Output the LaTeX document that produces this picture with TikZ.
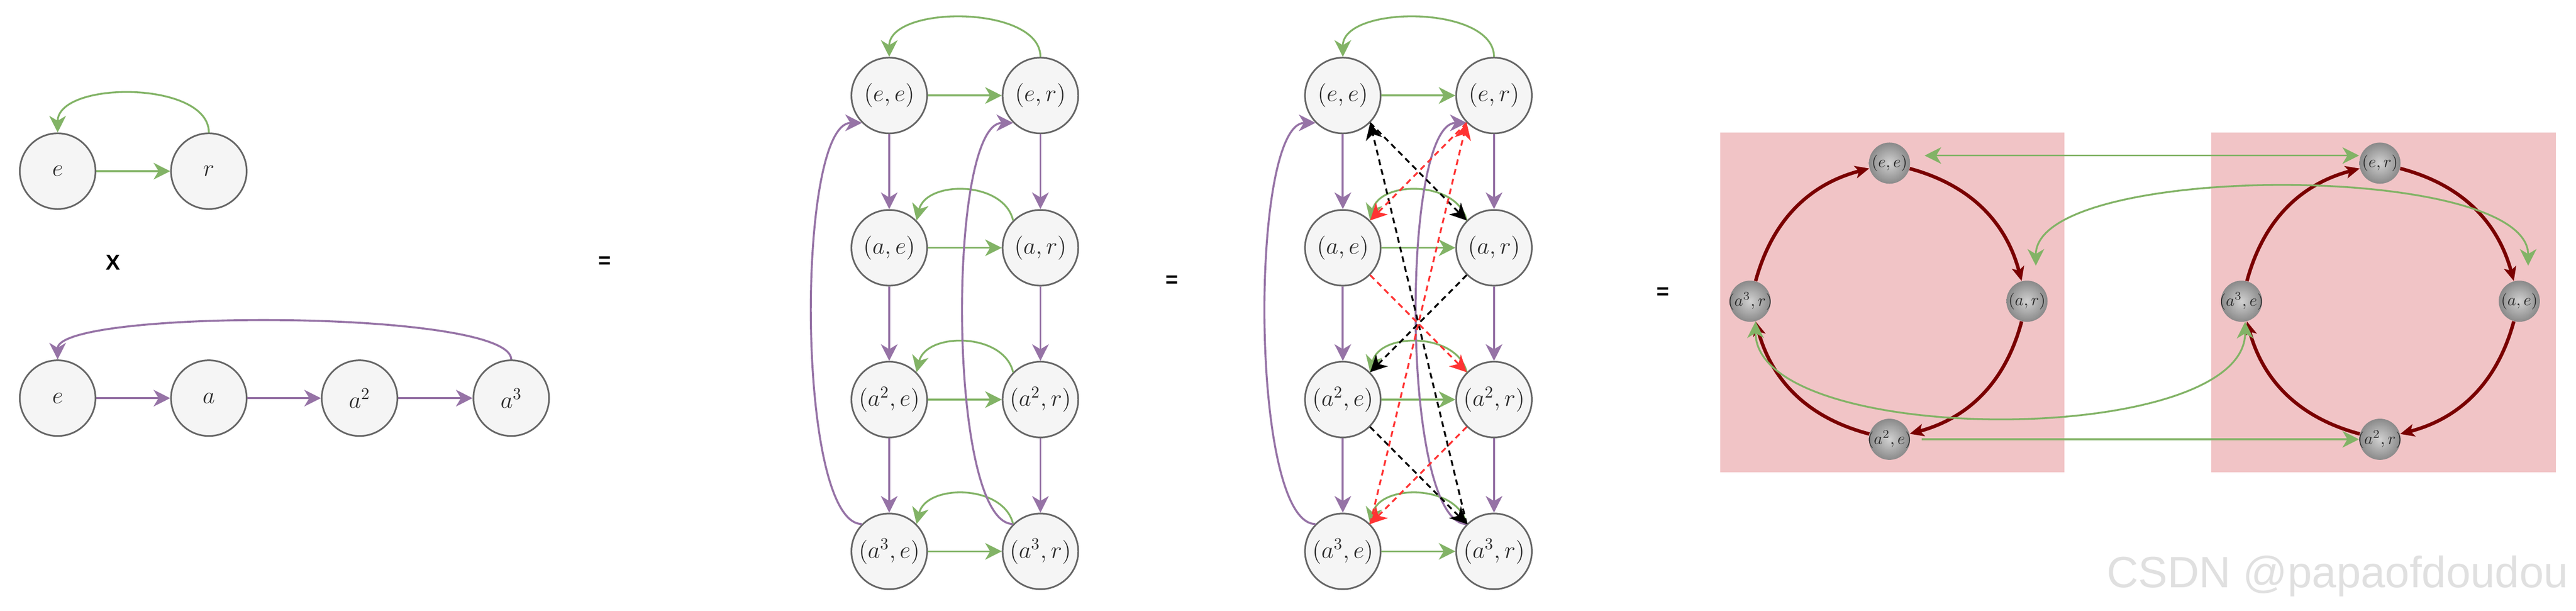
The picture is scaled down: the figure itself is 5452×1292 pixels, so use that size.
\documentclass[tikz,border=0pt]{standalone}
\usepackage{fontspec}
\newfontfamily\sanslabel{Liberation Sans}
\usetikzlibrary{arrows.meta}
\definecolor{greenedge}{HTML}{82B366}
\definecolor{purpleedge}{HTML}{9673A6}
\definecolor{nodefill}{HTML}{F5F5F5}
\definecolor{nodeline}{HTML}{666666}
\definecolor{textgray}{HTML}{2B2B2B}
\definecolor{cosetpink}{HTML}{F1C4C6}
\definecolor{cycred}{HTML}{7A0000}
\definecolor{dashred}{HTML}{FF3333}
\begin{document}
\begin{tikzpicture}[x=0.01cm,y=-0.01cm,
 vertex/.style={circle,draw=nodeline,line width=1pt,fill=nodefill,minimum size=1.6cm,inner sep=0pt,text=textgray,font=\fontsize{14.4}{17}\selectfont},
 ball/.style={circle,shading=radial,inner color=black!18,outer color=black!46,minimum size=0.87cm,inner sep=0pt,text=textgray,font=\fontsize{10}{12}\selectfont},
 opsign/.style={font=\sanslabel\bfseries\fontsize{13}{15}\selectfont},
 redge/.style={draw=greenedge,line width=1.1pt,-{Stealth[length=10pt,width=10pt,inset=3pt]}},
 rbothedge/.style={draw=greenedge,line width=1.1pt,{Stealth[length=10pt,width=10pt,inset=3pt]}-{Stealth[length=10pt,width=10pt,inset=3pt]}},
 aedge/.style={draw=purpleedge,line width=1.2pt,-{Stealth[length=10pt,width=10pt,inset=3pt]}},
 blackdash/.style={draw=black,line width=1.1pt,dash pattern=on 3.5pt off 2.5pt,-{Stealth[length=10pt,width=10pt,inset=3pt]}},
 reddash/.style={blackdash,draw=dashred},
 cycedge/.style={draw=cycred,line width=2.1pt,-{Stealth[length=8.5pt,width=7.5pt,inset=2pt]}}]
 \useasboundingbox (0,0) rectangle (5452,1292);
 % the two factors
 \node[vertex] (re) at (122,362) {$e$};
 \node[vertex] (rr) at (442,362) {$r$};
 \draw[redge] (re) -- (rr);
 \draw[redge] (rr.north) .. controls +(0,-110) and +(0,-110) .. (re.north);
 \node[opsign] (times) at (239,555) {X};
 \node[vertex] (ce) at (122,842) {$e$};
 \node[vertex] (ca) at (442,842) {$a$};
 \node[vertex] (ca2) at (761,842) {$a^2$};
 \node[vertex] (ca3) at (1082,842) {$a^3$};
 \draw[aedge] (ce) -- (ca);
 \draw[aedge] (ca) -- (ca2);
 \draw[aedge] (ca2) -- (ca3);
 \draw[aedge] (ca3.north) .. controls +(0,-107) and +(0,-107) .. (ce.north);
 \node[opsign] (eqa) at (1280,555) {=};
 % product graph
 \node[vertex] (mee) at (1882,202) {$(e,e)$};
 \node[vertex] (mer) at (2202,202) {$(e,r)$};
 \node[vertex] (mae) at (1882,524) {$(a,e)$};
 \node[vertex] (mar) at (2202,524) {$(a,r)$};
 \node[vertex] (ma2e) at (1882,845) {$(a^2,e)$};
 \node[vertex] (ma2r) at (2202,845) {$(a^2,r)$};
 \node[vertex] (ma3e) at (1882,1166) {$(a^3,e)$};
 \node[vertex] (ma3r) at (2202,1166) {$(a^3,r)$};
 \draw[redge] (mee) -- (mer);
 \draw[redge] (mae) -- (mar);
 \draw[redge] (ma2e) -- (ma2r);
 \draw[redge] (ma3e) -- (ma3r);
 \draw[redge] (mer.north) .. controls +(0,-110) and +(0,-110) .. (mee.north);
 \draw[redge] (mar.north west) .. controls +(-20,-85) and +(20,-85) .. (mae.north east);
 \draw[redge] (ma2r.north west) .. controls +(-20,-85) and +(20,-85) .. (ma2e.north east);
 \draw[redge] (ma3r.north west) .. controls +(-20,-85) and +(20,-85) .. (ma3e.north east);
 \draw[aedge] (mee) -- (mae);
 \draw[aedge] (mae) -- (ma2e);
 \draw[aedge] (ma2e) -- (ma3e);
 \draw[aedge] (mer) -- (mar);
 \draw[aedge] (mar) -- (ma2r);
 \draw[aedge] (ma2r) -- (ma3r);
 \draw[aedge] (ma3e.north west) .. controls +(-140,0) and +(-140,0) .. (mee.south west);
 \draw[aedge] (ma3r.north west) .. controls +(-140,0) and +(-140,0) .. (mer.south west);
 \node[opsign] (eqb) at (2480,595) {=};
 % product graph with the (a,r) cycles
 \node[vertex] (dee) at (2842,202) {$(e,e)$};
 \node[vertex] (der) at (3162,202) {$(e,r)$};
 \node[vertex] (dae) at (2842,524) {$(a,e)$};
 \node[vertex] (dar) at (3162,524) {$(a,r)$};
 \node[vertex] (da2e) at (2842,845) {$(a^2,e)$};
 \node[vertex] (da2r) at (3162,845) {$(a^2,r)$};
 \node[vertex] (da3e) at (2842,1166) {$(a^3,e)$};
 \node[vertex] (da3r) at (3162,1166) {$(a^3,r)$};
 \draw[redge] (dee) -- (der);
 \draw[redge] (dae) -- (dar);
 \draw[redge] (da2e) -- (da2r);
 \draw[redge] (da3e) -- (da3r);
 \draw[redge] (der.north) .. controls +(0,-110) and +(0,-110) .. (dee.north);
 \draw[redge] (dar.north west) .. controls +(-20,-85) and +(20,-85) .. (dae.north east);
 \draw[redge] (da2r.north west) .. controls +(-20,-85) and +(20,-85) .. (da2e.north east);
 \draw[redge] (da3r.north west) .. controls +(-20,-85) and +(20,-85) .. (da3e.north east);
 \draw[aedge] (dee) -- (dae);
 \draw[aedge] (dae) -- (da2e);
 \draw[aedge] (da2e) -- (da3e);
 \draw[aedge] (der) -- (dar);
 \draw[aedge] (dar) -- (da2r);
 \draw[aedge] (da2r) -- (da3r);
 \draw[aedge] (da3e.north west) .. controls +(-140,0) and +(-140,0) .. (dee.south west);
 \draw[aedge] (da3r.north west) .. controls +(-140,0) and +(-140,0) .. (der.south west);
 \draw[blackdash] (dee.south east) -- (dar.north west);
 \draw[blackdash] (dar.south west) -- (da2e.north east);
 \draw[blackdash] (da2e.south east) -- (da3r.north west);
 \draw[blackdash] (da3r.north west) -- (dee.south east);
 \draw[reddash] (der.south west) -- (dae.north east);
 \draw[reddash] (dae.south east) -- (da2r.north west);
 \draw[reddash] (da2r.south west) -- (da3e.north east);
 \draw[reddash] (da3e.north east) -- (der.south west);
 \node[opsign] (eqc) at (3520,620) {=};
 % the two cosets as cycles
 \fill[cosetpink] (3641,280) rectangle (4369,999);
 \fill[cosetpink] (4680,280) rectangle (5409,999);
 \node[ball] (bee) at (3999,345) {\makebox[0pt]{$(e,e)$}};
 \node[ball] (bar) at (4290,637) {\makebox[0pt]{$(a,r)$}};
 \node[ball] (ba2e) at (3999,929) {\makebox[0pt]{$(a^2,e)$}};
 \node[ball] (ba3r) at (3704,637) {\makebox[0pt]{$(a^3,r)$}};
 \node[ball] (ber) at (5037,345) {\makebox[0pt]{$(e,r)$}};
 \node[ball] (bae) at (5332,637) {\makebox[0pt]{$(a,e)$}};
 \node[ball] (ba2r) at (5037,929) {\makebox[0pt]{$(a^2,r)$}};
 \node[ball] (ba3e) at (4744,637) {\makebox[0pt]{$(a^3,e)$}};
 \draw[cycedge] (bee) to[bend left=30] (bar);
 \draw[cycedge] (bar) to[bend left=30] (ba2e);
 \draw[cycedge] (ba2e) to[bend left=30] (ba3r);
 \draw[cycedge] (ba3r) to[bend left=30] (bee);
 \draw[cycedge] (ber) to[bend left=30] (bae);
 \draw[cycedge] (bae) to[bend left=30] (ba2r);
 \draw[cycedge] (ba2r) to[bend left=30] (ba3e);
 \draw[cycedge] (ba3e) to[bend left=30] (ber);
 \draw[rbothedge,shorten <=0.3cm] ([yshift=0.16cm]bee.east) -- ([yshift=0.16cm]ber.west);
 \draw[rbothedge,shorten <=0.35cm,shorten >=0.35cm] (bar.65) .. controls +(0,-255) and +(0,-255) .. (bae.65);
 \draw[rbothedge] (ba3r.-75) .. controls +(0,268) and +(0,268) .. (ba3e.-80);
 \draw[redge,shorten <=0.24cm] (ba2e.east) -- (ba2r.west);
 \node[anchor=base west,inner sep=0pt,text=black!12,font=\sanslabel\fontsize{26.4}{30}\selectfont] (mark) at (4458,1243) {CSDN @papaofdoudou};
\end{tikzpicture}
\end{document}
